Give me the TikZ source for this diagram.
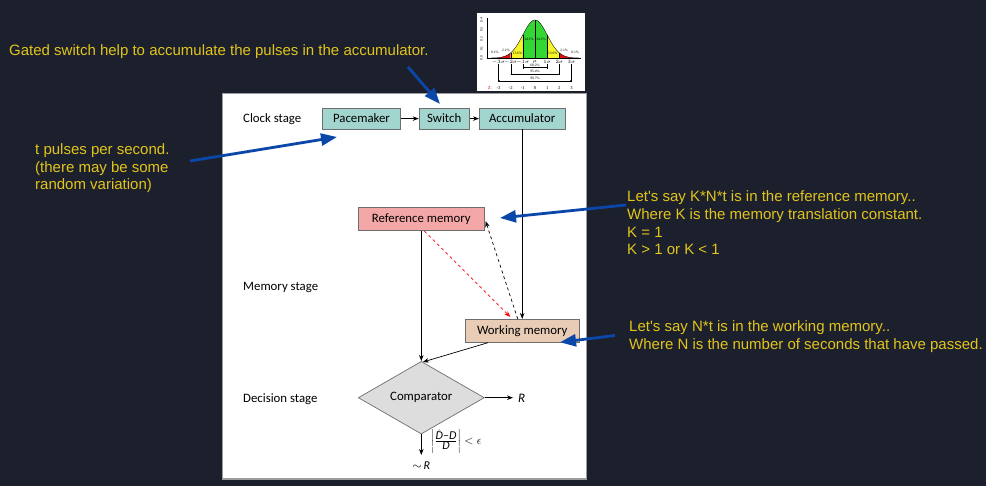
\documentclass[tikz,border=0pt]{standalone}
\usepackage{fontspec}
\setmainfont{Carlito}
\newfontfamily\notefont{Liberation Sans}
\newfontfamily\plotfont{Liberation Serif}
\usetikzlibrary{arrows.meta,shapes.geometric,calc}

\definecolor{slide}{HTML}{1B202C}
\definecolor{note}{HTML}{E2C41C}
\definecolor{pointer}{HTML}{0B47A8}
\definecolor{frameline}{HTML}{9C9C9C}
\definecolor{boxline}{HTML}{6E6E6E}
\definecolor{clockfill}{HTML}{A3D5CF}
\definecolor{reffill}{HTML}{F4A7A7}
\definecolor{workfill}{HTML}{E8CCB5}
\definecolor{compfill}{HTML}{DDDDDD}
\definecolor{bellgreen}{HTML}{33D633}
\definecolor{bellyellow}{HTML}{F6F52A}
\definecolor{bellred}{HTML}{E01010}

\begin{document}
\begin{tikzpicture}[x=1pt,y=-1pt,
  stagebox/.style={draw=boxline,line width=0.7pt,inner sep=0pt,
    font=\fontsize{12.8}{15}\selectfont},
  stagelabel/.style={anchor=west,inner sep=0pt,font=\fontsize{12.8}{15}\selectfont},
  flow/.style={-{Stealth[length=6pt,width=4.5pt]},line width=0.7pt},
  notetext/.style={anchor=base west,inner sep=0pt,align=left,text=note,
    font=\notefont\fontsize{15}{17.7}\selectfont},
  pointarrow/.style={-{Triangle[length=16pt,width=12pt]},draw=pointer,line width=2.8pt},
  plotlabel/.style={inner sep=0pt,font=\plotfont\fontsize{3.6}{4}\selectfont}]

% slide background
\fill[slide] (0,0) rectangle (986,486);
\useasboundingbox (0,0) rectangle (986,486);

% panel
\draw[frameline,fill=white,line width=1.6pt] (222.5,93.5) rectangle (586.5,479);

% normal distribution inset
\fill[white] (477,13) rectangle (585,91);
\begin{scope}[shift={(535,58)},x=12.17pt,y=38pt]
  \foreach \a/\b/\c in {-3/-2/bellred,-2/-1/bellyellow,-1/1/bellgreen,1/2/bellyellow,2/3/bellred}
    \fill[\c] (\a,0) -- plot[domain=\a:\b,samples=20] (\x,{exp(-\x*\x/2)}) -- (\b,0) -- cycle;
  \foreach \k in {-3,...,3}
    \draw[line width=0.25pt] (\k,0) -- (\k,{exp(-\k*\k/2)});
  \draw[line width=0.35pt] plot[domain=-3.6:3.6,smooth,samples=60] (\x,{exp(-\x*\x/2)});
  \draw[line width=0.3pt] (-3.94,1.04) -- (-3.94,0) -- (3.75,0);
  \foreach \v/\h [count=\i] in {0.0/0,0.1/0.25,0.2/0.5,0.3/0.75,0.4/1}
    \node[plotlabel,rotate=90] (yl\i) at (-4.4,\h) {\v};
  % percentages
  \node[plotlabel] (pa) at (-0.5,0.5) {34.1\%};
  \node[plotlabel] (pb) at (0.5,0.5) {34.1\%};
  \node[plotlabel] (pc) at (-1.45,0.12) {13.6\%};
  \node[plotlabel] (pd) at (1.45,0.12) {13.6\%};
  \node[plotlabel] (pe) at (-2.4,0.19) {2.1\%};
  \node[plotlabel] (pf) at (2.4,0.19) {2.1\%};
  \node[plotlabel] (pg) at (-3.3,0.14) {0.1\%};
  \node[plotlabel] (ph) at (3.3,0.14) {0.1\%};
  % sigma ticks
  \foreach \k/\t in {-3/$-3\sigma$,-2/$-2\sigma$,-1/$-1\sigma$,0/$\mu$,1/$1\sigma$,2/$2\sigma$,3/$3\sigma$}
    \node[plotlabel] (s\k) at (\k,-0.1) {\t};
  % ranges
  \foreach \k/\y/\t in {1/-0.25/68.2\%,2/-0.43/95.4\%,3/-0.6/99.7\%}{
    \draw[line width=0.25pt] (-\k,-0.17) -- (-\k,\y-0.03) (\k,-0.17) -- (\k,\y-0.03);
    \draw[line width=0.25pt,{Stealth[length=1.4pt,width=1.2pt]}-{Stealth[length=1.4pt,width=1.2pt]}] (-\k,\y) -- (\k,\y);
    \node[plotlabel] (r\k) at (0,\y+0.07) {\t};
  }
  % z scores
  \node[plotlabel,text=bellred,font=\plotfont\fontsize{4.6}{5}\selectfont] (zl) at (-3.7,-0.8) {Z:};
  \foreach \k in {-3,...,3}
    \node[plotlabel,font=\plotfont\fontsize{4.6}{5}\selectfont] (z\k) at (\k,-0.8) {\k};
\end{scope}

% stage names
\node[stagelabel] (clock) at (243,119.5) {Clock stage};
\node[stagelabel] (memory) at (243,287.5) {Memory stage};
\node[stagelabel] (decision) at (243,399) {Decision stage};

% clock stage
\node[stagebox,fill=clockfill,minimum width=78.4pt,minimum height=20.7pt] (pace) at (361.5,118.6) {Pacemaker};
\node[stagebox,fill=clockfill,minimum width=50.3pt,minimum height=20.7pt] (switch) at (444.2,118.6) {Switch};
\node[stagebox,fill=clockfill,minimum width=85.7pt,minimum height=20.7pt] (acc) at (522.2,118.6) {Accumulator};

% memory stage
\node[stagebox,fill=reffill,minimum width=126pt,minimum height=23pt] (ref) at (421.3,219.2) {Reference memory};
\node[stagebox,fill=workfill,minimum width=113.3pt,minimum height=23pt] (work) at (522.3,330.8) {Working memory};

% decision stage
\node[stagebox,diamond,fill=compfill,minimum width=126pt,minimum height=62pt] (comp) at (421.3,397.7) {Comparator};
\coordinate (yes) at (513,397.7);
\coordinate (no) at (421.3,455);
\node[inner sep=0pt,anchor=west,font=\fontsize{13}{15}\selectfont] (R) at (518,398.5) {\textit{R}};
\node[inner sep=0pt,font=\fontsize{12}{14}\selectfont] (notR) at (421.3,466) {$\sim$\,\textit{R}};
\node[inner sep=0pt,anchor=west,font=\fontsize{12}{14}\selectfont] (crit) at (431,441) {$\left|\frac{\hat{\textit{D}}\mbox{–}\textit{D}}{\textit{D}}\right| < \epsilon$};

% connectors
\draw[flow] (pace) -- (switch);
\draw[flow] (switch) -- (acc);
\draw[flow] (acc.south) -- (acc.south |- work.north);
\draw[flow] (ref.south) -- (comp.north);
\draw[flow] ($(work.south west)!0.2!(work.south east)$) -- ($(comp.north)+(1.5,1)$);
\draw[flow,red,dashed] ($(ref.south)+(3,0)$) -- ($(work.north)+(-12,-2)$);
\draw[flow,dashed] ($(work.north)+(-4.6,0)$) -- ($(ref.east)+(1,2)$);
\draw[flow] (comp.east) -- (yes);
\draw[flow] (comp.south) -- (no);

% notes
\node[notetext] (gated) at (9,56) {Gated switch help to accumulate the pulses in the accumulator.};
\node[notetext] (pulses) at (35,190) {t pulses per second.\\(there may be some\\random variation)};
\node[notetext] (refnote) at (627,255) {Let's say K*N*t is in the reference memory..\\Where K is the memory translation constant.\\K = 1\\K > 1 or K < 1};
\node[notetext] (worknote) at (629,349.3) {Let's say N*t is in the working memory..\\Where N is the number of seconds that have passed.};

% pointers
\coordinate (gatedtail) at (408,67);
\coordinate (gatedtip) at (440,104);
\coordinate (pulsetail) at (190,161);
\coordinate (pulsetip) at (337,137);
\coordinate (reftail) at (626,205);
\coordinate (reftip) at (500,218);
\coordinate (worktail) at (615,335.5);
\coordinate (worktip) at (560,342.3);
\draw[pointarrow] (gatedtail) -- (gatedtip);
\draw[pointarrow] (pulsetail) -- (pulsetip);
\draw[pointarrow] (reftail) -- (reftip);
\draw[pointarrow] (worktail) -- (worktip);

\end{tikzpicture}
\end{document}
